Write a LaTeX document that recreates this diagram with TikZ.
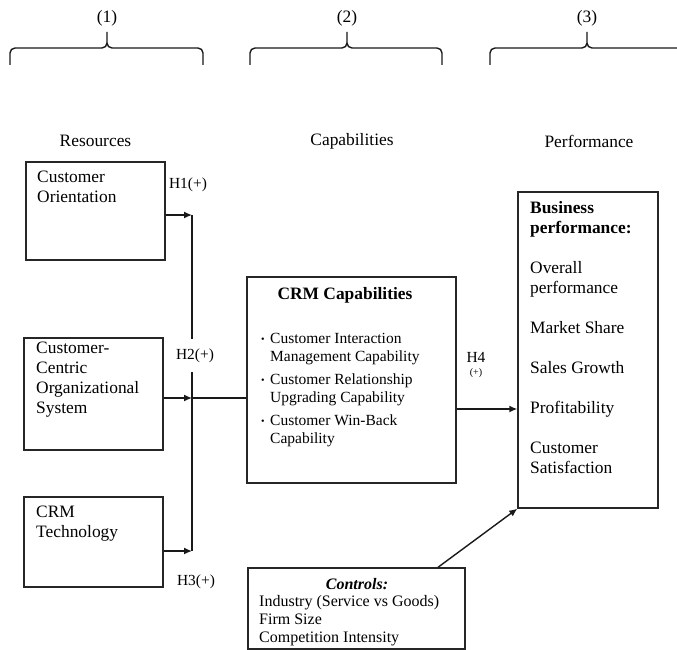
\documentclass[tikz,border=0pt]{standalone}
\usepackage{fontspec}
\setmainfont{Liberation Serif}
\usetikzlibrary{arrows.meta,calc}

\begin{document}
\begin{tikzpicture}[x=1pt,y=-1pt,
  box/.style={draw=black!85, line width=1.4pt, inner sep=0},
  lbl/.style={inner sep=0, anchor=north west, align=left},
  txt/.style={font=\fontsize{17.4}{20}\selectfont},
  small/.style={font=\fontsize{15.5}{18}\selectfont},
  hyp/.style={inner sep=0, font=\fontsize{15.4}{18}\selectfont},
  arr/.style={line width=1.4pt, draw=black!90, -{Latex[length=8pt,width=7pt]}},
  ln/.style={line width=1.4pt, draw=black!90},
  brc/.style={line width=1.4pt, draw=black!90, line join=round},
]
\useasboundingbox (0,0) rectangle (677,650);

% column braces and their numbers
\foreach \a/\c/\b/\n in {10/107/203/1, 250/347/442/2, 490/587/684/3} {
  \draw[brc] (\a,65) -- (\a,53) to[out=90,in=180] (\a+5,48) -- (\c-5,48)
             to[out=0,in=-90] (\c,43) -- (\c,32);
  \draw[brc] (\c,43) to[out=-90,in=180] (\c+5,48) -- (\b-5,48)
             to[out=0,in=90] (\b,53) -- (\b,65);
  \node[txt, inner sep=0] (num\n) at (\c,18) {(\n)};
}

% column headings
\node[txt, inner sep=0] (hres)  at (95.5,141) {Resources};
\node[txt, inner sep=0] (hcap)  at (352,141)  {Capabilities};
\node[txt, inner sep=0] (hperf) at (589,141)  {Performance};

% resource boxes
\node[box, minimum width=139pt, minimum height=98pt]  (co) at (95.5,211) {};
\node[box, minimum width=139pt, minimum height=112pt] (cc) at (93.5,394) {};
\node[box, minimum width=139pt, minimum height=90pt]  (ct) at (93.5,542) {};
\node[lbl, txt] (coT) at (37,171) {Customer\\Orientation};
\node[lbl, txt] (ccT) at (36,342) {Customer-\\Centric\\Organizational\\System};
\node[lbl, txt] (ctT) at (36,506) {CRM\\Technology};

% capabilities box
\node[box, minimum width=209pt, minimum height=206pt] (crm) at (351.5,380) {};
\node[inner sep=0, font=\bfseries\fontsize{17.4}{20}\selectfont] (crmT) at (345,295) {CRM Capabilities};
\newcommand\bul{\makebox[9pt][l]{\fontsize{10}{10}\selectfont\raisebox{0.5pt}{•}}}
\node[lbl, small] (crmL) at (261,333) {%
  \bul Customer Interaction\\\hspace*{9pt}Management Capability\\[5pt]
  \bul Customer Relationship\\\hspace*{9pt}Upgrading Capability\\[5pt]
  \bul Customer Win-Back\\\hspace*{9pt}Capability};

% performance box
\node[box, minimum width=140pt, minimum height=316pt] (perf) at (588,350) {};
\node[lbl, txt] (perfT) at (530,201) {%
  \textbf{Business}\\\textbf{performance:}\\[20pt]
  Overall\\performance\\[20pt]
  Market Share\\[20pt]
  Sales Growth\\[20pt]
  Profitability\\[20pt]
  Customer\\Satisfaction};

% controls box
\node[box, minimum width=217pt, minimum height=81pt] (ctrl) at (356.5,608.5) {};
\node[inner sep=0, font=\bfseries\itshape\fontsize{16}{18}\selectfont] (ctrlT) at (357,584) {Controls:};
\node[lbl, font=\fontsize{16}{18}\selectfont] (ctrlL) at (259,595) {%
  Industry (Service vs Goods)\\Firm Size\\Competition Intensity};

% hypothesis connectors
\coordinate (j1) at (192,215);
\coordinate (j2) at (192,398);
\coordinate (j3) at (192,551);
\coordinate (gT) at (192,339);
\coordinate (gB) at (192,372);
\coordinate (h4) at (487,409);
\draw[arr] (co.east |- j1) -- (j1);
\draw[arr] (cc.east |- j2) -- (j2);
\draw[arr] (ct.east |- j3) -- (j3);
\draw[ln] (j1) -- (gT);
\draw[ln] (gB) -- (j3);
\draw[ln] (j2) -- (crm.west |- j2);
\draw[arr] (crm.east |- h4) -- (perf.west |- h4);
\draw[arr] ([xshift=81.5pt]ctrl.north) -- (perf.south west);

\node[hyp] (h1l) at (188,185) {H1(+)};
\node[hyp] (h2l) at (195,356) {H2(+)};
\node[hyp] (h3l) at (196,582) {H3(+)};
\node[hyp] (h4l) at (476,357) {H4};
\node[inner sep=0, font=\fontsize{10}{12}\selectfont] (h4p) at (476,373) {(+)};
\end{tikzpicture}
\end{document}
